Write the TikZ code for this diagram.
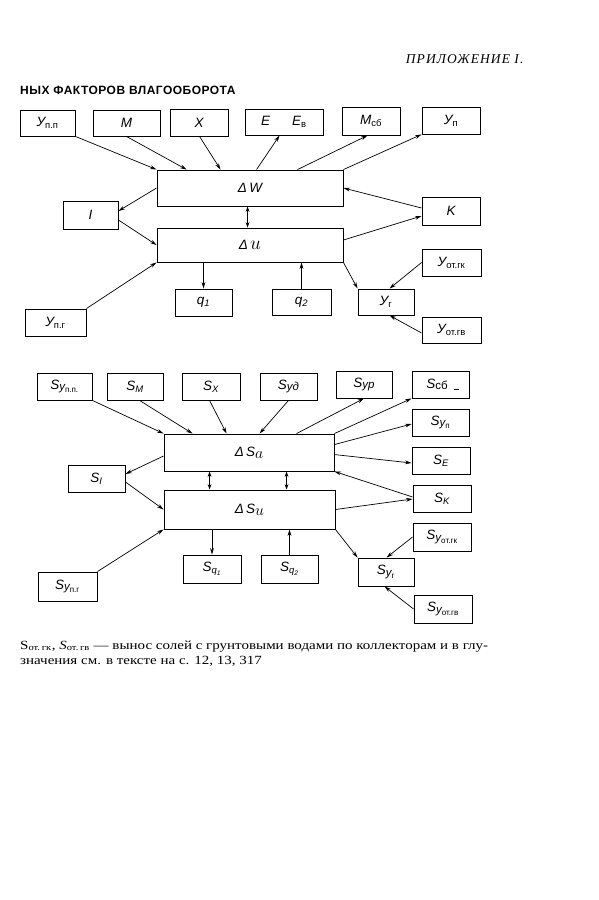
\documentclass[tikz,border=0pt]{standalone}
\usepackage{fontspec}
\setmainfont{Liberation Serif}
\newfontfamily\lab{Liberation Sans}
\newfontfamily\hdrfont[LetterSpace=8]{Liberation Serif}
\newfontfamily\headbold[LetterSpace=4]{Liberation Sans}
\usetikzlibrary{arrows.meta,calc}
\newcommand\lo[1]{\textsubscript{\upshape #1}}
\newcommand\li[1]{\textsubscript{\itshape #1}}
\newcommand\Sy[1]{S\raisebox{-1.5pt}{\fontsize{11.5}{12}\selectfont у\textsubscript{\upshape #1}}}
\newcommand\Syy[1]{S\raisebox{-1.5pt}{\fontsize{11.5}{12}\selectfont #1}}
\newcommand\bx[6]{\node[box,minimum width={(#4-#2)*1pt},minimum height={(#5-#3)*1pt}] (#1) at ({(#2+#4)/2},{(#3+#5)/2}) {#6};}
\begin{document}
\begin{tikzpicture}[x=1pt,y=-1pt,
  box/.style={draw,line width=0.9pt,inner sep=0pt,font=\lab\itshape\fontsize{13.5}{15}\selectfont},
  arr/.style={line width=0.7pt,-{Stealth[length=6.5pt,width=3.8pt]}},
  darr/.style={line width=0.7pt,{Stealth[length=5.5pt,width=3.8pt]}-{Stealth[length=5.5pt,width=3.8pt]}}]
\useasboundingbox[fill=white] (0,0) rectangle (599,900);

% headers
\node[anchor=east,font=\hdrfont\itshape\fontsize{13.5}{15}\selectfont] (hdr) at (527,59) {ПРИЛОЖЕНИЕ I.};
\node[anchor=west,font=\headbold\bfseries\fontsize{12}{14}\selectfont,inner sep=0pt] (ttl) at (20,90) {НЫХ ФАКТОРОВ ВЛАГООБОРОТА};

% ---------- top diagram ----------
\bx{upp}{20}{110}{75}{136}{У\lo{п.п}}
\bx{m}{93}{110}{160}{136}{M}
\bx{x}{170}{109}{228}{136}{X}
\bx{e}{245}{109}{323}{135}{E\hspace{22pt}E\lo{в}}
\bx{msb}{342}{107}{400}{135}{M\lo{сб}}
\bx{yp}{422}{107}{480}{134}{У\lo{п}}
\bx{dW}{157}{170}{343}{206}{Δ\,W}
\bx{I}{63}{201}{118}{229}{I}
\bx{K}{422}{197}{480}{225}{K}
\bx{du}{157}{228}{343}{262}{Δ\,\scalebox{1.35}{$u$}}
\bx{q1}{175}{289}{232}{316}{q\li{1}}
\bx{q2}{272}{289}{331}{315}{q\li{2}}
\bx{ypg}{25}{309}{86}{336}{У\lo{п.г}}
\bx{yg}{358}{289}{414}{315}{У\lo{г}}
\bx{yotgk}{422}{249}{481}{276}{У\lo{от.гк}}
\bx{yotgv}{422}{317}{481}{343}{У\lo{от.гв}}

\draw[arr] (upp.south east) -- (dW.north west);
\draw[arr] (m.south) -- ([xshift=30pt]dW.north west);
\draw[arr] ([xshift=30pt]x.south west) -- ([xshift=64pt]dW.north west);
\draw[arr] ([xshift=100pt]dW.north west) -- ([xshift=35pt]e.south west);
\draw[arr] ([xshift=141pt]dW.north west) -- ([xshift=26pt]msb.south west);
\draw[arr] (dW.north east) -- (yp.south west);
\draw[arr] ([yshift=3pt]K.west) -- (dW.east);
\draw[arr] ([yshift=5pt]du.east) -- ([yshift=-5pt]K.west);
\draw[arr] (dW.west) -- ([yshift=4pt]I.east);
\draw[arr] ([yshift=-5pt]I.east) -- (du.west);
\draw[arr] (ypg.north east) -- (du.south west);
\draw[darr] ([xshift=91pt]dW.south west) -- ([xshift=91pt]du.north west);
\draw[arr] (q1.north |- du.south) -- (q1.north);
\draw[arr] (q2.north) -- (q2.north |- du.south);
\draw[arr] (du.south east) -- (yg.north west);
\draw[arr] (yotgk.west) -- ([xshift=32pt]yg.north west);
\draw[arr] ([yshift=-3pt]yotgv.west) -- ([xshift=32pt]yg.south west);

% ---------- bottom diagram ----------
\bx{sypp}{37}{373}{92}{400}{\Sy{п.п.}}
\bx{sm}{107}{373}{163}{400}{S\li{M}}
\bx{sx}{182}{373}{240}{400}{S\li{X}}
\bx{syd}{260}{373}{317}{400}{\Syy{уд}}
\bx{syr}{336}{371}{392}{398}{\Syy{ур}}
\bx{ssb}{412}{371}{469}{398}{\hspace{4pt}\Syy{\upshape сб}\hspace{6pt}\rule[-2pt]{5pt}{1.2pt}}
\bx{syp}{412}{409}{469}{436}{\Sy{п}}
\bx{se}{412}{447}{470}{474}{S\li{E}}
\bx{dSa}{164}{434}{334}{471}{Δ\,S\raisebox{-2pt}{\scalebox{1.1}{$a$}}}
\bx{sI}{68}{465}{125}{492}{S\li{I}}
\bx{dSu}{164}{490}{335}{529}{Δ\,S\raisebox{-2pt}{\scalebox{1.1}{$u$}}}
\bx{sK}{413}{485}{471}{512}{S\li{K}}
\bx{sq1}{183}{555}{241}{583}{S\li{q\li{1}}}
\bx{sq2}{261}{555}{318}{583}{S\li{q\li{2}}}
\bx{sypg}{38}{572}{97}{601}{\Sy{п.г}}
\bx{syg}{358}{558}{414}{586}{\Sy{г}}
\bx{syotgk}{413}{523}{471}{551}{\Sy{от.гк}}
\bx{syotgv}{414}{595}{472}{623}{\Sy{от.гв}}

\draw[arr] (sypp.south east) -- (dSa.north west);
\draw[arr] ([xshift=33pt]sm.south west) -- ([xshift=29pt]dSa.north west);
\draw[arr] ([xshift=28pt]sx.south west) -- ([xshift=63pt]dSa.north west);
\draw[arr] (syd.south) -- ([xshift=96pt]dSa.north west);
\draw[arr] ([xshift=133pt]dSa.north west) -- (syr.south);
\draw[arr] (dSa.north east) -- (ssb.south west);
\draw[arr] ([yshift=-11pt]dSa.north east) -- ([yshift=-1.5pt]syp.west);
\draw[arr] ([yshift=-21pt]dSa.north east) -- ([yshift=-2.5pt]se.west);
\draw[arr] ([yshift=1.5pt]sK.west) -- (dSa.south east);
\draw[arr] (dSu.east) -- ([yshift=-0.5pt]sK.west);
\draw[arr] ([yshift=-3.5pt]dSa.west) -- ([yshift=4.5pt]sI.east);
\draw[arr] ([yshift=-3.5pt]sI.east) -- (dSu.west);
\draw[arr] (sypg.north east) -- (dSu.south west);
\draw[darr] ([xshift=46pt]dSa.south west) -- ([xshift=46pt]dSu.north west);
\draw[darr] ([xshift=123pt]dSa.south west) -- ([xshift=123pt]dSu.north west);
\draw[arr] (sq1.north |- dSu.south) -- (sq1.north);
\draw[arr] (sq2.north) -- (sq2.north |- dSu.south);
\draw[arr] (dSu.south east) -- (syg.north west);
\draw[arr] (syotgk.west) -- ([xshift=29pt]syg.north west);
\draw[arr] (syotgv.west) -- ([xshift=27pt]syg.south west);

% caption
\node[anchor=base west,inner sep=0pt,font=\fontsize{12.5}{14}\selectfont] (cap1) at (20,649)
  {\scalebox{1.2}[1]{S\textsubscript{от.\,гк}, \textit{S}\textsubscript{от.\,гв} — вынос солей с грунтовыми водами по коллекторам и в глу-}};
\node[anchor=base west,inner sep=0pt,font=\fontsize{12.5}{14}\selectfont] (cap2) at (20,664)
  {\scalebox{1.2}[1]{значения см. в тексте на с. 12, 13, 317}};
\end{tikzpicture}
\end{document}
